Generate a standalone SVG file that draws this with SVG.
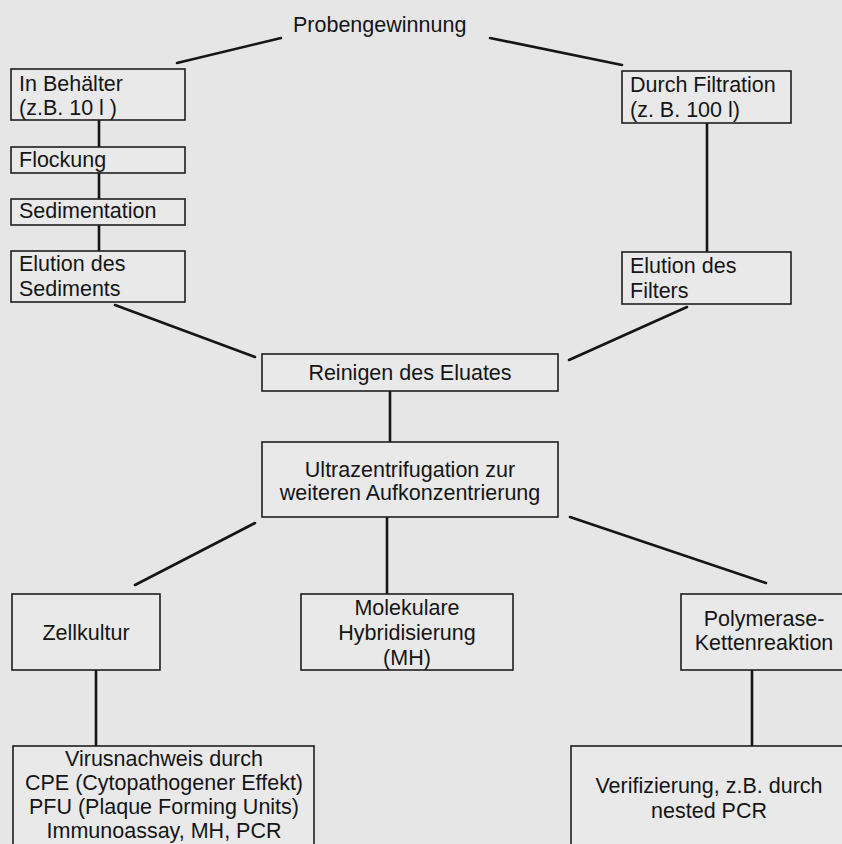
<svg xmlns="http://www.w3.org/2000/svg" width="842" height="844" viewBox="0 0 842 844">
<style>
text{font-family:"Liberation Sans",Arial,sans-serif;font-size:21.5px;fill:#151515}
.c{text-anchor:middle}
.box{fill:#e9e9e9;stroke:#1e1e1e;stroke-width:1.6}
.con line{stroke:#151515;stroke-width:2.6;stroke-linecap:round}
</style>
<rect x="0" y="0" width="842" height="844" fill="#e6e6e6"/>
<g id="connectors" class="con">
<line x1="177" y1="63" x2="281" y2="38"/>
<line x1="490" y1="38" x2="622" y2="65"/>
<line x1="99" y1="120" x2="99" y2="147"/>
<line x1="99" y1="173" x2="99" y2="199"/>
<line x1="99" y1="225" x2="99" y2="251"/>
<line x1="707" y1="123" x2="707" y2="252"/>
<line x1="115" y1="305" x2="255" y2="357"/>
<line x1="687" y1="307" x2="569" y2="360"/>
<line x1="390" y1="391" x2="390" y2="442"/>
<line x1="255" y1="523" x2="135" y2="585"/>
<line x1="570" y1="517" x2="766" y2="583"/>
<line x1="387" y1="517" x2="387" y2="594"/>
<line x1="96" y1="670" x2="96" y2="746"/>
<line x1="752" y1="670" x2="752" y2="746"/>
</g>
<g id="probengewinnung">
<text x="293" y="32">Probengewinnung</text>
</g>
<g id="behaelter">
<rect class="box" x="11" y="69" width="174" height="51"/>
<text x="19" y="91">In Behälter</text>
<text x="19" y="115">(z.B. 10 l )</text>
</g>
<g id="flockung">
<rect class="box" x="11" y="147" width="174" height="26"/>
<text x="19" y="167">Flockung</text>
</g>
<g id="sedimentation">
<rect class="box" x="11" y="199" width="174" height="26"/>
<text x="19" y="218">Sedimentation</text>
</g>
<g id="elution-sediments">
<rect class="box" x="11" y="251" width="174" height="51"/>
<text x="19" y="271">Elution des</text>
<text x="19" y="296">Sediments</text>
</g>
<g id="filtration">
<rect class="box" x="622" y="71" width="169" height="52"/>
<text x="630" y="92">Durch Filtration</text>
<text x="630" y="117">(z. B. 100 l)</text>
</g>
<g id="elution-filters">
<rect class="box" x="622" y="252" width="169" height="52"/>
<text x="630" y="273">Elution des</text>
<text x="630" y="298">Filters</text>
</g>
<g id="reinigen">
<rect class="box" x="262" y="354" width="296" height="37"/>
<text class="c" x="410" y="380">Reinigen des Eluates</text>
</g>
<g id="ultrazentrifugation">
<rect class="box" x="262" y="442" width="296" height="75"/>
<text class="c" x="410" y="477">Ultrazentrifugation zur</text>
<text class="c" x="410" y="500">weiteren Aufkonzentrierung</text>
</g>
<g id="zellkultur">
<rect class="box" x="12" y="594" width="148" height="76"/>
<text class="c" x="86" y="640">Zellkultur</text>
</g>
<g id="hybridisierung">
<rect class="box" x="301" y="594" width="212" height="76"/>
<text class="c" x="407" y="615">Molekulare</text>
<text class="c" x="407" y="640">Hybridisierung</text>
<text class="c" x="407" y="665">(MH)</text>
</g>
<g id="pcr">
<rect class="box" x="681" y="594" width="175" height="76"/>
<text class="c" x="764" y="626">Polymerase-</text>
<text class="c" x="764" y="650">Kettenreaktion</text>
</g>
<g id="virusnachweis">
<rect class="box" x="13" y="746" width="301" height="110"/>
<text class="c" x="164" y="766">Virusnachweis durch</text>
<text class="c" x="164" y="790">CPE (Cytopathogener Effekt)</text>
<text class="c" x="164" y="814">PFU (Plaque Forming Units)</text>
<text class="c" x="164" y="838">Immunoassay, MH, PCR</text>
</g>
<g id="verifizierung">
<rect class="box" x="571" y="746" width="290" height="110"/>
<text class="c" x="709" y="793">Verifizierung, z.B. durch</text>
<text class="c" x="709" y="818">nested PCR</text>
</g>
</svg>
